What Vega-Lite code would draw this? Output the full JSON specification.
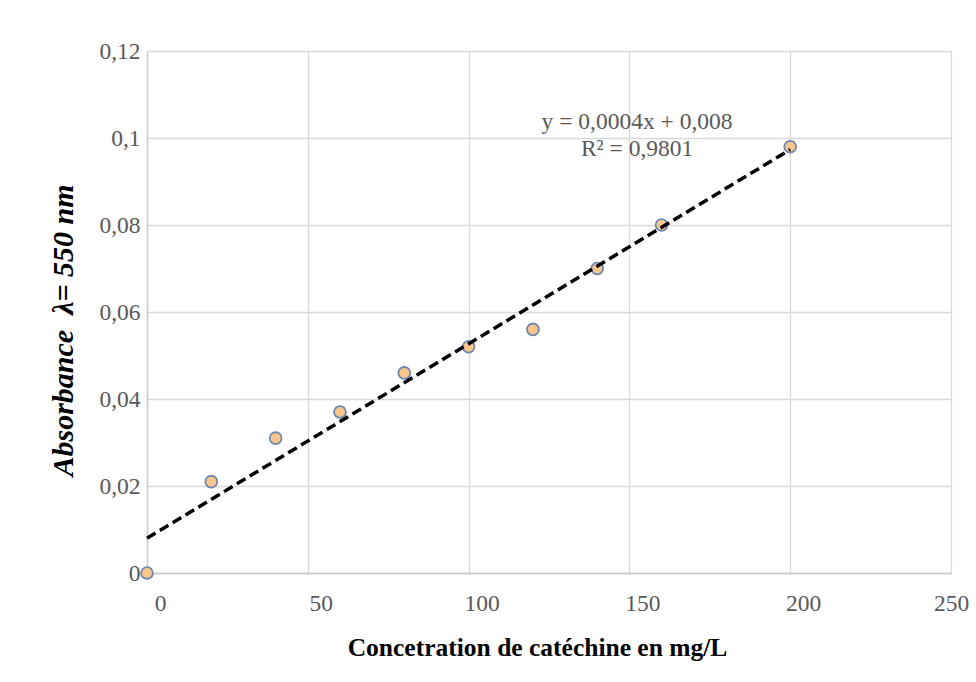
{
  "$schema": "https://vega.github.io/schema/vega-lite/v6.json",
  "autosize": {"type": "none"},
  "width": 804,
  "height": 522,
  "padding": {"left": 147, "top": 51, "right": 25, "bottom": 109},
  "background": "white",
  "config": {
    "view": {"stroke": null},
    "font": "Liberation Serif",
    "axis": {
      "grid": true,
      "gridColor": "#d9d9d9",
      "gridWidth": 1.3,
      "domainColor": "#c8c8c8",
      "domainWidth": 1.3,
      "ticks": false,
      "labelFont": "Liberation Serif",
      "labelFontSize": 23.5,
      "labelColor": "#595959",
      "titleFont": "Liberation Serif",
      "titleColor": "#000000",
      "titleFontWeight": "bold"
    }
  },
  "datasets": {
    "points": [
      {"conc": 0, "abs": 0},
      {"conc": 20, "abs": 0.021},
      {"conc": 40, "abs": 0.031},
      {"conc": 60, "abs": 0.037},
      {"conc": 80, "abs": 0.046},
      {"conc": 100, "abs": 0.052},
      {"conc": 120, "abs": 0.056},
      {"conc": 140, "abs": 0.07},
      {"conc": 160, "abs": 0.08},
      {"conc": 200, "abs": 0.098}
    ],
    "notes": [
      {"conc": 152.4, "abs": 0.1037, "label": "y = 0,0004x + 0,008"},
      {"conc": 152.4, "abs": 0.0975, "label": "R² = 0,9801"}
    ]
  },
  "layer": [
    {
      "data": {"name": "points"},
      "mark": {"type": "point", "filled": true, "size": 140, "fill": "#fbc58c", "stroke": "#6a89b0", "strokeWidth": 1.8, "opacity": 1},
      "encoding": {
        "x": {
          "field": "conc", "type": "quantitative",
          "scale": {"domain": [0, 250], "nice": false, "zero": false},
          "axis": {
            "values": [0, 50, 100, 150, 200, 250],
            "title": "Concetration de catéchine en mg/L",
            "titleFontSize": 25.5,
            "titleX": 390,
            "titleY": 74,
            "titleBaseline": "middle",
            "labelOffset": {"condition": {"test": "datum.value == 250", "value": 0}, "value": 13},
            "labelPadding": 18,
            "labelBaseline": "top",
            "labelFlush": false
          }
        },
        "y": {
          "field": "abs", "type": "quantitative",
          "scale": {"domain": [0, 0.12], "nice": false},
          "axis": {
            "values": [0, 0.02, 0.04, 0.06, 0.08, 0.1, 0.12],
            "labelExpr": "replace(format(datum.value, ''), '.', ',')",
            "title": "Absorbance\u00a0 λ= 550 nm",
            "titleFontSize": 30,
            "titleFontStyle": "italic",
            "titleX": -84,
            "titleY": 279,
            "titleBaseline": "middle",
            "titleAngle": -90,
            "labelPadding": 7,
            "labelFlush": false
          }
        }
      }
    },
    {
      "data": {"name": "points"},
      "transform": [
        {"regression": "abs", "on": "conc", "method": "linear", "extent": [0, 200]}
      ],
      "mark": {"type": "line", "color": "#000000", "strokeWidth": 3.5, "strokeDash": [10, 5]},
      "encoding": {
        "x": {"field": "conc", "type": "quantitative"},
        "y": {"field": "abs", "type": "quantitative"}
      }
    },
    {
      "data": {"name": "notes"},
      "mark": {"type": "text", "font": "Liberation Serif", "fontSize": 23.5, "color": "#595959", "align": "center", "baseline": "middle"},
      "encoding": {
        "x": {"field": "conc", "type": "quantitative"},
        "y": {"field": "abs", "type": "quantitative"},
        "text": {"field": "label"}
      }
    }
  ]
}
